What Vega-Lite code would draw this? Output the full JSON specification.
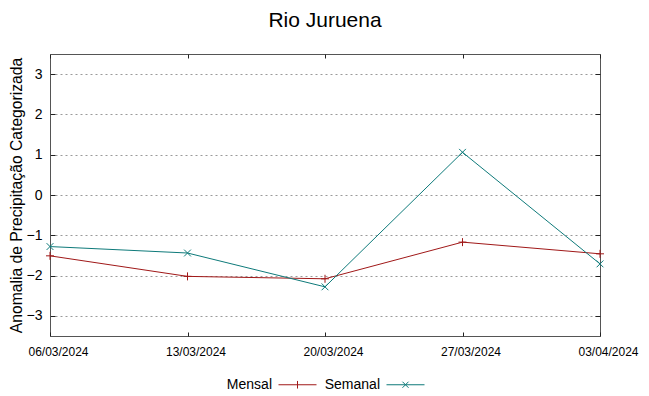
{
  "$schema": "https://vega.github.io/schema/vega-lite/v6.json",
  "width": 550,
  "height": 282,
  "autosize": {"type": "none"},
  "padding": {"left": 50, "top": 54, "right": 49, "bottom": 60},
  "background": "white",
  "title": {"text": "Rio Juruena", "fontSize": 21, "font": "Liberation Sans", "fontWeight": "normal", "color": "#000000", "anchor": "middle", "offset": 23},
  "config": {
    "view": {"stroke": "#555555", "strokeWidth": 1},
    "axis": {"labelFont": "Liberation Sans", "titleFont": "Liberation Sans", "labelColor": "#000000", "titleColor": "#000000", "titleFontWeight": "normal", "domain": false, "tickColor": "#222222"},
    "legend": {"labelFont": "Liberation Sans"}
  },
  "data": {"values": [
    {"date": "2024-03-06", "series": "Mensal", "value": -1.51},
    {"date": "2024-03-13", "series": "Mensal", "value": -2.02},
    {"date": "2024-03-20", "series": "Mensal", "value": -2.08},
    {"date": "2024-03-27", "series": "Mensal", "value": -1.17},
    {"date": "2024-04-03", "series": "Mensal", "value": -1.46},
    {"date": "2024-03-06", "series": "Semanal", "value": -1.28},
    {"date": "2024-03-13", "series": "Semanal", "value": -1.44},
    {"date": "2024-03-20", "series": "Semanal", "value": -2.28},
    {"date": "2024-03-27", "series": "Semanal", "value": 1.06},
    {"date": "2024-04-03", "series": "Semanal", "value": -1.71}
  ]},
  "resolve": {"axis": {"x": "independent", "y": "independent"}},
  "layer": [
    {
      "mark": {"type": "line", "strokeWidth": 1, "clip": true},
      "encoding": {
        "x": {"field": "date", "type": "temporal",
          "scale": {"type": "utc", "domain": [{"year": 2024, "month": 3, "date": 6, "utc": true}, {"year": 2024, "month": 4, "date": 3, "utc": true}], "nice": false},
          "axis": {"title": null, "labelExpr": "utcFormat(datum.value, '%d/%m/%Y')", "labelFontSize": 12, "labelPadding": 14, "labelOffset": 8, "tickSize": -4, "grid": false, "labelAngle": 0,
            "values": [{"year": 2024, "month": 3, "date": 6, "utc": true}, {"year": 2024, "month": 3, "date": 13, "utc": true}, {"year": 2024, "month": 3, "date": 20, "utc": true}, {"year": 2024, "month": 3, "date": 27, "utc": true}, {"year": 2024, "month": 4, "date": 3, "utc": true}], "labelOverlap": false, "labelFlush": false}},
        "y": {"field": "value", "type": "quantitative",
          "scale": {"domain": [-3.5, 3.5], "nice": false, "zero": false},
          "axis": {"title": "Anomalia de Precipitação Categorizada", "titleFontSize": 15.7, "titlePadding": 2, "labelFontSize": 14, "labelPadding": 13, "tickSize": -5, "values": [-3, -2, -1, 0, 1, 2, 3], "grid": true, "gridColor": "#9a9a9a", "gridDash": [2, 3], "gridWidth": 1}},
        "color": {"field": "series", "type": "nominal",
          "scale": {"domain": ["Mensal", "Semanal"], "range": ["#a01818", "#0e7a7a"]},
          "legend": {"title": null, "orient": "none", "legendX": 228, "legendY": 311, "direction": "horizontal", "labelFontSize": 14, "labelAlign": "right", "labelOffset": -45, "symbolSize": 1444, "symbolStrokeWidth": 1, "columnPadding": 5,
            "encode": {"symbols": {"update": {"shape": {"signal": "datum.value === 'Mensal' ? 'M-1,0H1M0,-0.2V0.2' : 'M-1,0H1M-0.16,-0.16L0.16,0.16M-0.16,0.16L0.16,-0.16'"}, "fill": {"value": "transparent"}}}}}}
      }
    },
    {
      "transform": [{"filter": "datum.series === 'Mensal'"}],
      "mark": {"type": "point", "filled": false, "strokeWidth": 1, "size": 64, "opacity": 1, "shape": "M-1,0H1M0,-1V1"},
      "encoding": {
        "x": {"field": "date", "type": "temporal",
          "axis": {"orient": "top", "title": null, "labels": false, "grid": false, "tickSize": -4,
            "values": [{"year": 2024, "month": 3, "date": 6, "utc": true}, {"year": 2024, "month": 3, "date": 13, "utc": true}, {"year": 2024, "month": 3, "date": 20, "utc": true}, {"year": 2024, "month": 3, "date": 27, "utc": true}, {"year": 2024, "month": 4, "date": 3, "utc": true}]}},
        "y": {"field": "value", "type": "quantitative",
          "axis": {"orient": "right", "title": null, "labels": false, "grid": false, "tickSize": -5, "values": [-3, -2, -1, 0, 1, 2, 3]}},
        "color": {"field": "series", "type": "nominal", "legend": null}
      }
    },
    {
      "transform": [{"filter": "datum.series === 'Semanal'"}],
      "mark": {"type": "point", "filled": false, "strokeWidth": 1, "size": 64, "opacity": 1, "shape": "M-0.85,-0.85L0.85,0.85M-0.85,0.85L0.85,-0.85"},
      "encoding": {
        "x": {"field": "date", "type": "temporal", "axis": null},
        "y": {"field": "value", "type": "quantitative", "axis": null},
        "color": {"field": "series", "type": "nominal", "legend": null}
      }
    }
  ]
}
